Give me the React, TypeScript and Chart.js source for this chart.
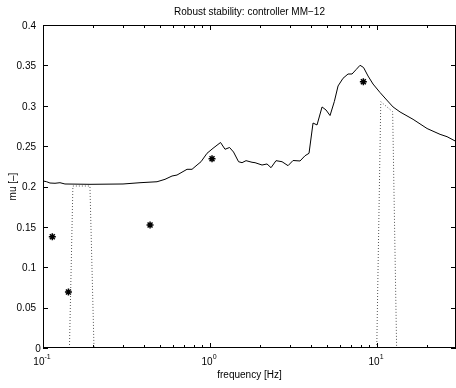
import React, { useEffect, useRef } from "react";
import { Chart, registerables } from "chart.js";

Chart.register(...registerables);

// Solid curve: mu upper bound vs frequency
const freq = [
  0.1004, 0.1052, 0.1101, 0.118, 0.1264, 0.1354, 0.1912, 0.3013, 0.3809, 0.4816,
  0.5377, 0.5922, 0.6343, 0.7283, 0.7802, 0.8359, 0.8834, 0.9594, 1.042, 1.156,
  1.23, 1.309, 1.383, 1.482, 1.555, 1.643, 1.784, 1.86, 2.048, 2.194,
  2.319, 2.484, 2.699, 2.932, 3.141, 3.459, 3.706, 3.915, 4.138, 4.372,
  4.686, 4.951, 5.231, 5.551, 5.842, 6.256, 6.705, 7.085, 7.487, 7.911,
  8.302, 8.834, 9.462, 10.42, 11.43, 12.47, 13.73, 16.43, 19.93, 23.84,
  26.25, 29.7,
];
const mu = [
  0.2068, 0.2059, 0.2043, 0.204, 0.2047, 0.2031, 0.2027, 0.2031, 0.2047, 0.2059,
  0.2089, 0.213, 0.2142, 0.2213, 0.2213, 0.2266, 0.2307, 0.2411, 0.2473, 0.2545,
  0.2461, 0.2483, 0.2427, 0.2307, 0.2295, 0.232, 0.23, 0.2295, 0.2266, 0.2279,
  0.2233, 0.232, 0.2307, 0.2258, 0.2322, 0.2316, 0.2381, 0.2411, 0.2786, 0.2762,
  0.2985, 0.2947, 0.2879, 0.3053, 0.3245, 0.334, 0.3393, 0.3393, 0.3447, 0.3501,
  0.3474, 0.3368, 0.3269, 0.3164, 0.3071, 0.2985, 0.2923, 0.2832, 0.2718, 0.2646,
  0.2617, 0.2558,
];

// Asterisk markers
const markerFreq = [0.1137, 0.142, 0.4375, 1.028, 8.28];
const markerMu = [0.1378, 0.0693, 0.1523, 0.2344, 0.3297];

// Dotted bands
const dotLeftFreq = [0.144, 0.151, 0.191, 0.202];
const dotLeftMu = [0, 0.2006, 0.2006, 0];
const dotRightFreq = [9.96, 10.53, 12.4, 13.1];
const dotRightMu = [0, 0.305, 0.2926, 0];

// Axes
const xMin = 0.1;
const xMax = 29.7;
const yMin = 0;
const yMax = 0.4;
const yTicks = [0, 0.05, 0.1, 0.15, 0.2, 0.25, 0.3, 0.35, 0.4];
const yTickLabels = ["0", "0.05", "0.1", "0.15", "0.2", "0.25", "0.3", "0.35", "0.4"];
const xMajorTicks = [0.1, 1, 10];
const xMajorExponents = ["-1", "0", "1"];
const xMinorTicks = [0.2, 0.3, 0.4, 0.5, 0.6, 0.7, 0.8, 0.9, 2, 3, 4, 5, 6, 7, 8, 9, 20];

const titleText = "Robust stability: controller MM\u221212";
const xLabel = "frequency [Hz]";
const yLabel = "mu [\u2013]";

const FONT = "'Liberation Sans', Arial, Helvetica, sans-serif";

const toXY = (xs: number[], ys: number[]) => xs.map((x, i) => ({ x, y: ys[i] }));

const framePlugin = {
  id: "matlabFrame",
  afterDraw(chart: any) {
    const { ctx, chartArea } = chart;
    const xs = chart.scales.x;
    const ys = chart.scales.y;
    const { left, right, top, bottom } = chartArea;
    ctx.save();
    ctx.strokeStyle = "#000";
    ctx.fillStyle = "#000";
    ctx.lineWidth = 1;
    // box
    ctx.strokeRect(left + 0.5, top + 0.5, right - left - 1, bottom - top - 1);

    // y ticks
    ctx.beginPath();
    yTicks.forEach((v) => {
      const py = Math.round(ys.getPixelForValue(v)) + 0.5;
      ctx.moveTo(left, py);
      ctx.lineTo(left + 5, py);
      ctx.moveTo(right, py);
      ctx.lineTo(right - 5, py);
    });
    // x major ticks
    xMajorTicks.forEach((v) => {
      const px = Math.round(xs.getPixelForValue(v)) + 0.5;
      ctx.moveTo(px, bottom);
      ctx.lineTo(px, bottom - 5);
      ctx.moveTo(px, top);
      ctx.lineTo(px, top + 5);
    });
    xMinorTicks.forEach((v) => {
      const px = Math.round(xs.getPixelForValue(v)) + 0.5;
      ctx.moveTo(px, bottom);
      ctx.lineTo(px, bottom - 3);
      ctx.moveTo(px, top);
      ctx.lineTo(px, top + 3);
    });
    ctx.stroke();

    // y tick labels
    ctx.font = `10px ${FONT}`;
    ctx.textBaseline = "middle";
    yTicks.forEach((v, i) => {
      const py = ys.getPixelForValue(v) + 1;
      if (v === 0) {
        ctx.textAlign = "center";
        ctx.fillText(yTickLabels[i], 38, py);
      } else {
        ctx.textAlign = "right";
        ctx.fillText(yTickLabels[i], 36, py);
      }
    });

    // x tick labels 10^n
    ctx.textBaseline = "alphabetic";
    ctx.textAlign = "left";
    xMajorTicks.forEach((v, i) => {
      const px = xs.getPixelForValue(v);
      ctx.font = `10px ${FONT}`;
      const wBase = ctx.measureText("10").width;
      ctx.font = `7px ${FONT}`;
      const wExp = ctx.measureText(xMajorExponents[i]).width;
      const start = px - (wBase + wExp) / 2 - 1;
      ctx.font = `10px ${FONT}`;
      ctx.fillText("10", start, 365);
      ctx.font = `7px ${FONT}`;
      ctx.fillText(xMajorExponents[i], start + wBase, 359);
    });

    // title
    ctx.font = `10px ${FONT}`;
    ctx.textAlign = "center";
    ctx.textBaseline = "middle";
    ctx.fillText(titleText, (left + right) / 2, 12);
    // x label
    ctx.fillText(xLabel, (left + right) / 2, 375);
    // y label
    ctx.save();
    ctx.translate(13, (top + bottom) / 2);
    ctx.rotate(-Math.PI / 2);
    ctx.fillText(yLabel, 0, 0);
    ctx.restore();

    ctx.restore();
  },
};

export default function App() {
  const canvasRef = useRef<HTMLCanvasElement | null>(null);

  useEffect(() => {
    if (!canvasRef.current) return;
    const chart = new Chart(canvasRef.current, {
      type: "scatter",
      data: {
        datasets: [
          {
            data: toXY(freq, mu),
            showLine: true,
            borderColor: "#000",
            borderWidth: 1,
            pointRadius: 0,
            tension: 0,
          },
          {
            data: toXY(dotLeftFreq, dotLeftMu),
            showLine: true,
            borderColor: "#555",
            borderWidth: 1,
            borderDash: [1, 2],
            pointRadius: 0,
          },
          {
            data: toXY(dotRightFreq, dotRightMu),
            showLine: true,
            borderColor: "#555",
            borderWidth: 1,
            borderDash: [1, 2],
            pointRadius: 0,
          },
          {
            data: toXY(markerFreq, markerMu),
            showLine: false,
            pointStyle: "star",
            pointRadius: 3.5,
            borderColor: "#000",
            backgroundColor: "#000",
            pointBorderWidth: 1.5,
          },
        ],
      },
      options: {
        animation: false,
        responsive: false,
        devicePixelRatio: 1,
        layout: { autoPadding: false, padding: { left: 43, top: 25, right: 0, bottom: 40 } },
        plugins: {
          legend: { display: false },
          tooltip: { enabled: false },
          title: { display: false },
        },
        scales: {
          x: { type: "logarithmic", min: xMin, max: xMax, display: false },
          y: { type: "linear", min: yMin, max: yMax, display: false },
        },
      },
      plugins: [framePlugin],
    });
    return () => chart.destroy();
  }, []);

  return (
    <div style={{ position: "absolute", left: 0, top: 0, width: 456, height: 388, background: "#fff" }}>
      <canvas ref={canvasRef} width={456} height={388} style={{ width: 456, height: 388 }} />
    </div>
  );
}
